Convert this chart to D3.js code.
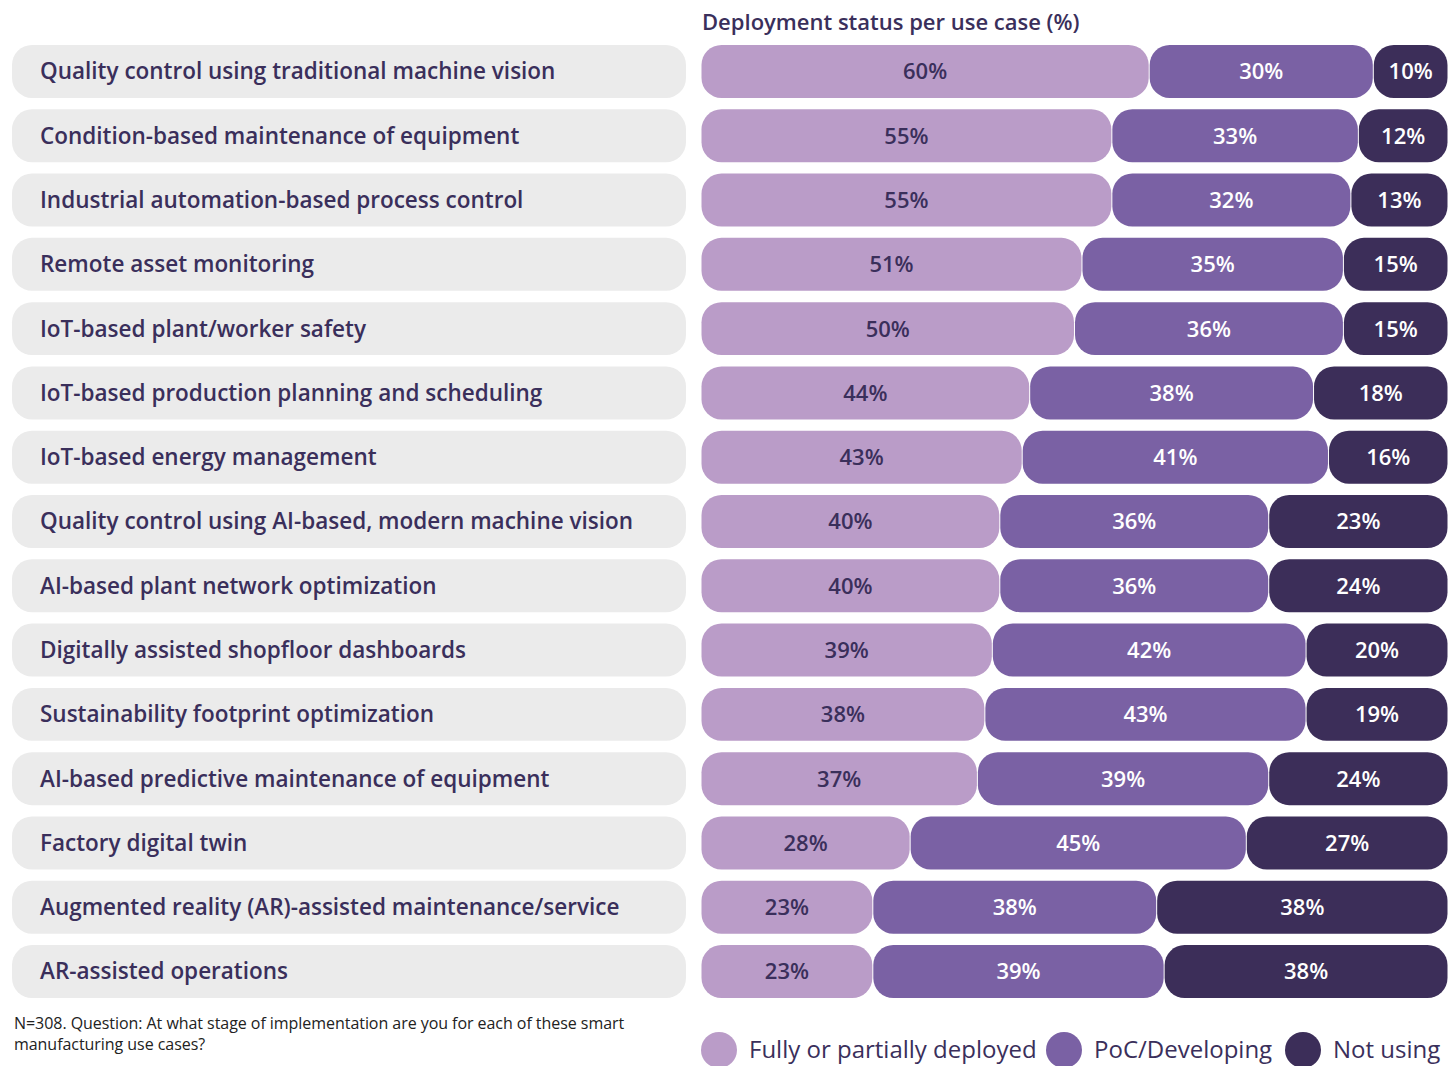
<!DOCTYPE html>
<html>
<head>
<meta charset="utf-8">
<script src="https://cdn.jsdelivr.net/npm/d3@7"></script>
<style>
  body { margin: 0; background: #fff; }
  svg { display: block; font-family: "Open Sans", "Noto Sans", sans-serif; }
</style>
</head>
<body>
<div id="chart"></div>
<script>
// Data
const useCases = [
  "Quality control using traditional machine vision",
  "Condition-based maintenance of equipment",
  "Industrial automation-based process control",
  "Remote asset monitoring",
  "IoT-based plant/worker safety",
  "IoT-based production planning and scheduling",
  "IoT-based energy management",
  "Quality control using AI-based, modern machine vision",
  "AI-based plant network optimization",
  "Digitally assisted shopfloor dashboards",
  "Sustainability footprint optimization",
  "AI-based predictive maintenance of equipment",
  "Factory digital twin",
  "Augmented reality (AR)-assisted maintenance/service",
  "AR-assisted operations"
];
const deployed   = [60, 55, 55, 51, 50, 44, 43, 40, 40, 39, 38, 37, 28, 23, 23];
const developing = [30, 33, 32, 35, 36, 38, 41, 36, 36, 42, 43, 39, 45, 38, 39];
const notUsing   = [10, 12, 13, 15, 15, 18, 16, 23, 24, 20, 19, 24, 27, 38, 38];
const seriesNames = ["Fully or partially deployed", "PoC/Developing", "Not using"];
const seriesColors = ["#ba9cc8", "#7a61a4", "#3c2e59"];
const textColors = ["#3a2f5b", "#ffffff", "#ffffff"];
const title = "Deployment status per use case (%)";
const note = ["N=308. Question: At what stage of implementation are you for each of these smart",
              "manufacturing use cases?"];

const W = 1456, H = 1066;
const svg = d3.select("#chart").append("svg").attr("width", W).attr("height", H);

const y = d3.scaleBand().domain(useCases).range([45, 998]).paddingInner(0.176).paddingOuter(0);
const x = d3.scaleLinear().domain([0, 100]).range([701, 1448]);
const rowH = y.bandwidth();

// Title
svg.append("text")
  .attr("x", 702).attr("y", 30)
  .attr("fill", "#3a2f5b")
  .attr("font-size", 22).attr("font-weight", 600)
  .text(title);

// Label pills
const rows = svg.selectAll("g.row").data(useCases).enter().append("g")
  .attr("class", "row")
  .attr("transform", d => `translate(0,${y(d)})`);

rows.append("rect")
  .attr("x", 12).attr("width", 674).attr("height", rowH)
  .attr("rx", 20).attr("fill", "#ebebeb");

rows.append("text")
  .attr("x", 40).attr("y", rowH / 2).attr("dy", "0.35em")
  .attr("fill", "#3a2f5b").attr("font-size", 22.5).attr("font-weight", 600)
  .text(d => d);

// Stacked segments
const values = [deployed, developing, notUsing];
rows.each(function (d, i) {
  const g = d3.select(this);
  let cum = 0;
  values.forEach((arr, s) => {
    const v = arr[i];
    const x0 = x(cum);
    const x1 = s === 2 ? x(100) : x(cum + v);
    cum += v;
    g.append("rect")
      .attr("x", x0 + 0.5).attr("width", x1 - x0 - 1).attr("height", rowH)
      .attr("rx", 20).attr("fill", seriesColors[s]);
    g.append("text")
      .attr("x", (x0 + x1) / 2).attr("y", rowH / 2).attr("dy", "0.36em")
      .attr("text-anchor", "middle")
      .attr("fill", textColors[s]).attr("font-size", 22).attr("font-weight", 600)
      .text(v + "%");
  });
});

// Footnote
svg.append("text")
  .attr("x", 14).attr("y", 1029)
  .attr("fill", "#222").attr("font-size", 16).attr("letter-spacing", -0.05)
  .selectAll("tspan").data(note).enter().append("tspan")
  .attr("x", 14).attr("dy", (d, i) => i === 0 ? 0 : 21)
  .text(d => d);

// Legend
const legendX = [719, 1064, 1303];
const legend = svg.selectAll("g.legend").data(seriesNames).enter().append("g")
  .attr("class", "legend")
  .attr("transform", (d, i) => `translate(${legendX[i]},1050)`);
legend.append("circle").attr("r", 18).attr("fill", (d, i) => seriesColors[i]);
legend.append("text")
  .attr("x", 30).attr("dy", "0.35em")
  .attr("fill", "#3a2f5b").attr("font-size", 24).attr("font-weight", 500)
  .text(d => d);
</script>
</body>
</html>
